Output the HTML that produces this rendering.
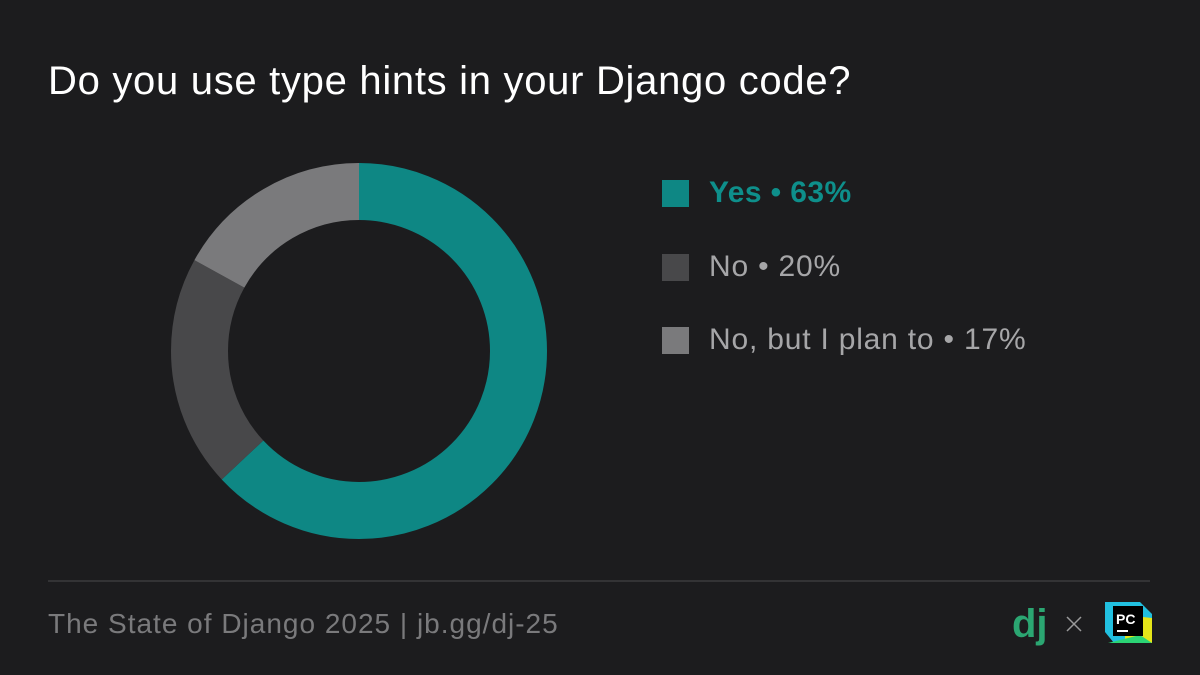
<!DOCTYPE html>
<html><head><style>
body{margin:0;width:1200px;height:675px;background:#1c1c1e;font-family:"Liberation Sans",sans-serif;position:relative;overflow:hidden}
.t{position:absolute;left:48px;top:59px;font-size:40px;letter-spacing:0.7px;color:#fff}
.lg{position:absolute;left:662px;font-size:30px;letter-spacing:0.8px;color:#a6a6a8;display:flex;align-items:center}
.lg i{display:inline-block;width:27px;height:27px;margin-right:20px}
.ft{position:absolute;left:48px;top:608px;font-size:28px;letter-spacing:1px;color:#7a7a7c}
</style></head><body>
<div class="t">Do you use type hints in your Django code?</div>
<svg style="position:absolute;left:0;top:0" width="1200" height="675">
<g transform="rotate(-90 359 351)" fill="none" stroke-width="57">
<circle cx="359" cy="351" r="159.5" stroke="#0e8784" stroke-dasharray="631.4 1002.2"/>
<circle cx="359" cy="351" r="159.5" stroke="#48484a" stroke-dasharray="0 631.4 200.4 1002.2"/>
<circle cx="359" cy="351" r="159.5" stroke="#7a7a7c" stroke-dasharray="0 831.8 170.4 1002.2"/>
</g>
<line x1="48" y1="581" x2="1150" y2="581" stroke="#4a4a4c" stroke-width="1"/>
<text x="1012" y="637" font-family="Liberation Sans" font-weight="bold" font-size="40" fill="#2ba672">dj</text>
<path d="M1067 617L1081 631M1081 617L1067 631" stroke="#9a9a9a" stroke-width="1.5"/>
<polygon points="1105,602 1140,602 1152,614 1152,643 1114,643 1105,632" fill="#21c0e0"/>
<polygon points="1125,615 1152,618 1152,643 1125,643" fill="#e5e519"/>
<polygon points="1108,643 1140,635 1152,643" fill="#2bd475"/>
<rect x="1113" y="606" width="30" height="30" fill="#000"/>
<text x="1116" y="624" font-family="Liberation Sans" font-weight="bold" font-size="14" fill="#fff">PC</text>
<rect x="1117" y="630" width="11" height="2" fill="#fff"/>
</svg>
<div class="lg" style="top:176px;color:#0e8f8b;font-weight:bold;letter-spacing:0.4px"><i style="background:#0e8784"></i>Yes • 63%</div>
<div class="lg" style="top:250px"><i style="background:#48484a"></i>No • 20%</div>
<div class="lg" style="top:323px"><i style="background:#7a7a7c"></i>No, but I plan to • 17%</div>
<div class="ft">The State of Django 2025 | jb.gg/dj-25</div>
</body></html>
